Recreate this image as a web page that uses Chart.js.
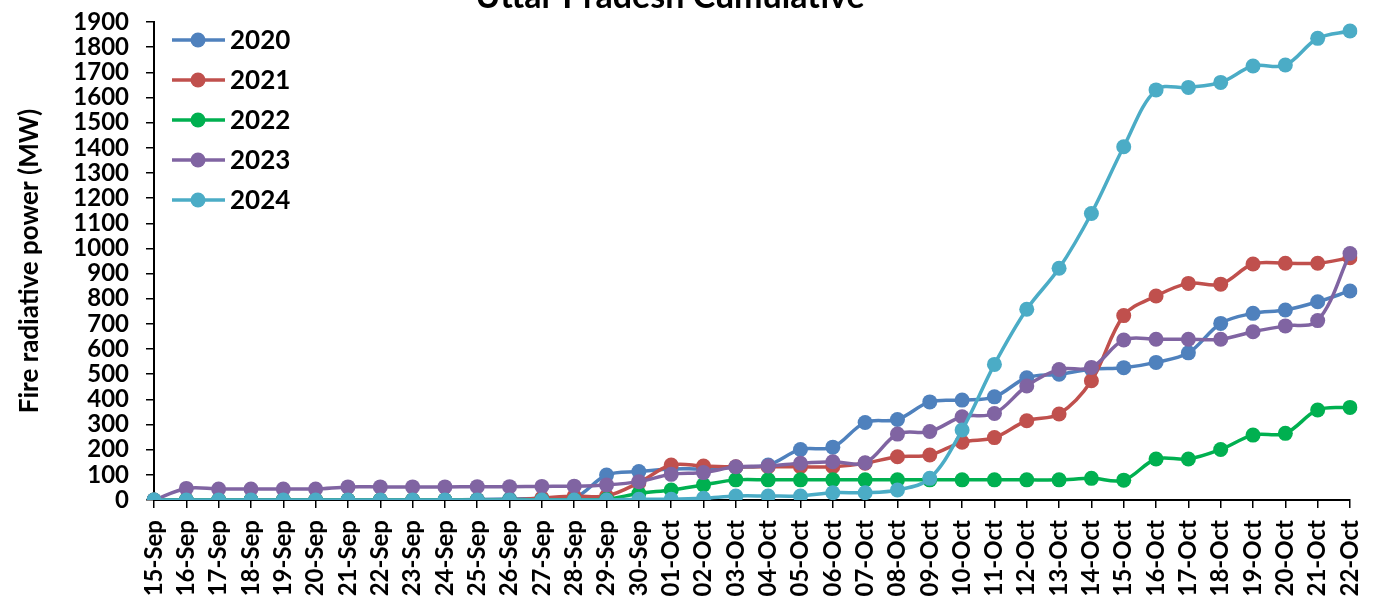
<!DOCTYPE html>
<html>
<head>
<meta charset="utf-8">
<script src="https://cdn.jsdelivr.net/npm/chart.js@4/dist/chart.umd.min.js"></script>
<style>
  html, body { margin: 0; padding: 0; background: #fff; }
  #wrap { width: 1375px; height: 603px; position: relative; }
</style>
</head>
<body>
<div id="wrap"><canvas id="c" width="1375" height="603"></canvas></div>
<script>
const chartTitle = "Uttar Pradesh Cumulative";
const yAxisTitle = "Fire radiative power (MW)";
const categories = ["15-Sep","16-Sep","17-Sep","18-Sep","19-Sep","20-Sep","21-Sep","22-Sep","23-Sep","24-Sep","25-Sep","26-Sep","27-Sep","28-Sep","29-Sep","30-Sep",
  "01-Oct","02-Oct","03-Oct","04-Oct","05-Oct","06-Oct","07-Oct","08-Oct","09-Oct","10-Oct","11-Oct","12-Oct","13-Oct","14-Oct","15-Oct","16-Oct","17-Oct","18-Oct","19-Oct","20-Oct","21-Oct","22-Oct"];
const seriesNames = ["2020","2021","2022","2023","2024"];
const y2020 = [0,0,0,0,0,0,0,0,0,0,2,4,6,8,99,113, 123,124,130,139,201,210,308,320,390,397,410,486,500,520,526,547,585,702,742,755,788,831];
const y2021 = [0,0,0,0,0,0,0,0,0,0,0,0,8,16,16,69, 139,135,132,132,132,132,146,172,179,230,248,315,342,474,733,811,861,858,938,941,941,963];
const y2022 = [0,0,0,0,0,0,0,0,0,0,0,0,0,0,3,26, 40,60,80,80,80,80,80,80,80,80,80,80,80,86,79,163,163,201,258,265,358,368];
const y2023 = [0,46,44,44,44,44,52,52,52,52,53,53,54,55,60,73, 102,109,132,135,146,152,148,262,272,331,344,453,519,527,636,639,639,639,669,692,713,980];
const y2024 = [0,0,0,0,0,0,0,0,0,0,0,0,0,0,0,3, 3,7,16,16,16,29,29,40,86,278,539,758,921,1139,1404,1630,1640,1660,1725,1729,1835,1864];
const seriesValues = [y2020, y2021, y2022, y2023, y2024];
const seriesColors = ["#4F81BD","#C0504D","#00B050","#8064A2","#4BACC6"];
const yMin = 0, yMax = 1900, yStep = 100;

const FONT = "Lato, 'Open Sans', sans-serif";

const datasets = seriesNames.map((name, i) => ({
  label: name,
  data: seriesValues[i],
  borderColor: seriesColors[i],
  backgroundColor: seriesColors[i],
  pointBackgroundColor: seriesColors[i],
  pointBorderColor: seriesColors[i],
  pointBorderWidth: 0,
  pointRadius: 7.5,
  borderWidth: 3.5,
  tension: 0.35,
  fill: false,
  order: seriesNames.length - i
}));

const overlay = {
  id: 'overlay',
  afterDraw(chart) {
    const ctx = chart.ctx;
    ctx.save();
    ctx.fillStyle = '#000';
    ctx.font = "bold 34px " + FONT;
    ctx.textAlign = 'center';
    ctx.textBaseline = 'alphabetic';
    ctx.fillText(chartTitle, 670, 8);
    seriesNames.forEach((name, i) => {
      const y = 40 + i * 40;
      ctx.strokeStyle = seriesColors[i];
      ctx.lineWidth = 3.5;
      ctx.beginPath();
      ctx.moveTo(172, y);
      ctx.lineTo(225, y);
      ctx.stroke();
      ctx.fillStyle = seriesColors[i];
      ctx.beginPath();
      ctx.arc(198, y, 7.5, 0, Math.PI * 2);
      ctx.fill();
      ctx.fillStyle = '#000';
      ctx.font = "bold 26px " + FONT;
      ctx.textAlign = 'left';
      ctx.textBaseline = 'middle';
      ctx.fillText(name, 230, y + 1);
    });
    ctx.restore();
  }
};

new Chart(document.getElementById('c'), {
  type: 'line',
  data: { labels: categories, datasets },
  plugins: [overlay],
  options: {
    responsive: false,
    animation: false,
    layout: { padding: { top: 22, right: 25, left: 0, bottom: 0 } },
    plugins: { legend: { display: false }, tooltip: { enabled: false }, title: { display: false } },
    scales: {
      x: {
        type: 'category',
        offset: false,
        grid: { display: true, drawOnChartArea: false, drawTicks: true, tickLength: 8, color: '#000', lineWidth: 1.5 },
        border: { display: true, color: '#000', width: 2 },
        ticks: { color: '#000', font: { family: FONT, weight: 'bold', size: 24 }, minRotation: 90, maxRotation: 90, autoSkip: false, padding: 12 },
        afterFit(scale) { scale.height = 103; scale.paddingLeft = 0; scale.paddingRight = 0; }
      },
      y: {
        min: yMin, max: yMax,
        grid: { display: true, drawOnChartArea: false, drawTicks: true, tickLength: 8, color: '#000', lineWidth: 1.5 },
        border: { display: true, color: '#000', width: 2 },
        ticks: { stepSize: yStep, autoSkip: false, color: '#000', font: { family: FONT, weight: 'bold', size: 24 }, padding: 17,
          callback: (v) => String(v) },
        title: { display: true, text: yAxisTitle, color: '#000', font: { family: FONT, weight: 'bold', size: 26 }, padding: { top: 14, bottom: 0 } },
        afterFit(scale) { scale.width = 154; scale.paddingTop = 0; scale.paddingBottom = 0; }
      }
    }
  }
});
</script>
</body>
</html>
